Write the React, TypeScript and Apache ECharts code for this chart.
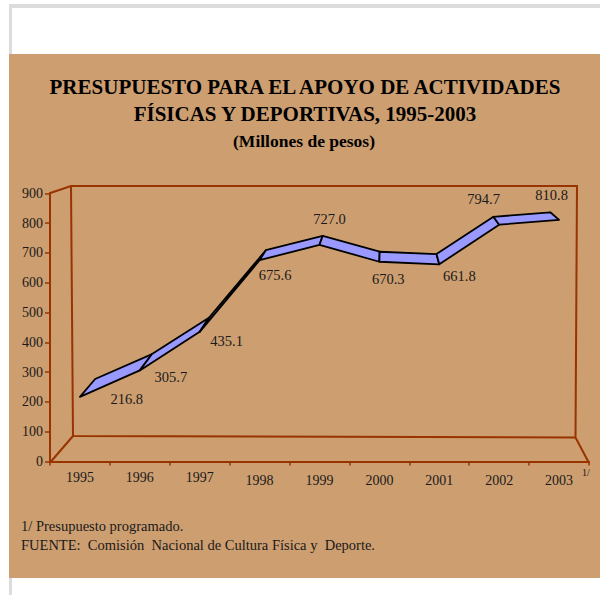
import React, { useEffect, useRef } from "react";
import * as echarts from "echarts";

const years = ["1995", "1996", "1997", "1998", "1999", "2000", "2001", "2002", "2003"];
const budget = [216.8, 305.7, 435.1, 675.6, 727.0, 670.3, 661.8, 794.7, 810.8];
const valueLabels = ["216.8", "305.7", "435.1", "675.6", "727.0", "670.3", "661.8", "794.7", "810.8"];

// Label offsets from each front point, in pixels
const labelDx = [46.8, 31, 26.9, 15.5, 10, 8.9, 20.1, -15.6, -7.4];
const labelDy = [2.4, 6.9, 9.5, 15.1, -25.6, 17.5, 11.4, -25.4, -24.6];

// One-point perspective used for the ribbon's back edge
const VP_X = 384;
const VP_Y = 89;
const DEPTH_X = 0.05;
const DEPTH_Y = 0.058;

const SERIF = "'Liberation Serif', 'Times New Roman', serif";
const TAN = "#CD9E70";
const AXIS = "#993300";
const INK = "#1a1a1a";

const back = (p: number[]) => [p[0] + (VP_X - p[0]) * DEPTH_X, p[1] + (VP_Y - p[1]) * DEPTH_Y];

export default function App() {
  const ref = useRef<HTMLDivElement>(null);
  useEffect(() => {
    const chart = echarts.init(ref.current!, null, { renderer: "svg" });
    const wall = { stroke: AXIS, lineWidth: 2, fill: "none" };
    chart.setOption({
      animation: false,
      backgroundColor: "#ffffff",
      title: [
        {
          text: "PRESUPUESTO PARA EL APOYO DE ACTIVIDADES\nFÍSICAS Y DEPORTIVAS, 1995-2003",
          left: 305,
          top: 73,
          textAlign: "center",
          padding: 0,
          textStyle: { fontFamily: SERIF, fontSize: 21, fontWeight: "bold", color: "#000", lineHeight: 27 },
        },
        {
          text: "(Millones de pesos)",
          left: 304,
          top: 132,
          textAlign: "center",
          padding: 0,
          textStyle: { fontFamily: SERIF, fontSize: 17.5, fontWeight: "bold", color: "#000", lineHeight: 18 },
        },
      ],
      grid: { left: 50, right: 11, top: 193.3, bottom: 133.5, containLabel: false },
      xAxis: {
        type: "category",
        data: years,
        boundaryGap: true,
        axisLine: { lineStyle: { color: AXIS, width: 2 } },
        axisTick: { show: true, length: 4, alignWithLabel: false, lineStyle: { color: AXIS, width: 1.5 } },
        axisLabel: {
          fontFamily: SERIF,
          fontSize: 14,
          color: INK,
          margin: 9,
          interval: 0,
          formatter: (value: string, index: number) => (index < 3 ? `{a|${value}}` : `{b|${value}}`),
          rich: {
            a: { fontFamily: SERIF, fontSize: 14, color: INK },
            b: { fontFamily: SERIF, fontSize: 14, color: INK, padding: [3, 0, 0, 0] },
          },
        },
        splitLine: { show: false },
      },
      yAxis: {
        type: "value",
        min: 0,
        max: 900,
        interval: 100,
        axisLine: { show: true, lineStyle: { color: AXIS, width: 2 } },
        axisTick: { show: true, length: 5, lineStyle: { color: AXIS, width: 1.5 } },
        axisLabel: { fontFamily: SERIF, fontSize: 14, color: INK, margin: 7 },
        splitLine: { show: false },
      },
      series: [
        {
          type: "custom",
          silent: true,
          clip: false,
          z: 5,
          data: budget.map((v, i) => [i, v]),
          encode: { x: 0, y: 1 },
          renderItem: (params: any, api: any) => {
            const i = api.value(0);
            const p0 = api.coord([i, budget[i]]);
            const children: any[] = [];
            if (i < budget.length - 1) {
              const p1 = api.coord([i + 1, budget[i + 1]]);
              children.push({
                type: "polygon",
                shape: { points: [p0, p1, back(p1), back(p0)] },
                style: { fill: "#9999FF", stroke: "#000", lineWidth: 1.8, lineJoin: "round" },
              });
            }
            children.push({
              type: "text",
              z2: 10,
              style: {
                x: p0[0] + labelDx[i],
                y: p0[1] + labelDy[i],
                text: valueLabels[i],
                fontFamily: SERIF,
                fontSize: 14.5,
                fill: INK,
                align: "center",
                verticalAlign: "middle",
              },
            });
            return { type: "group", children };
          },
        },
      ],
      graphic: [
        { type: "rect", z: -10, shape: { x: 9, y: 4, width: 591, height: 4 }, style: { fill: "#dcdcdc" } },
        { type: "rect", z: -10, shape: { x: 9, y: 4, width: 3, height: 591 }, style: { fill: "#dcdcdc" } },
        { type: "rect", z: -9, shape: { x: 9, y: 54, width: 591, height: 524 }, style: { fill: TAN } },
        { type: "polyline", z: -5, shape: { points: [[49.5, 193.3], [71, 186], [577, 186], [575.5, 437.5], [589, 463]] }, style: wall },
        { type: "polyline", z: -5, shape: { points: [[71, 186], [73, 436], [575.5, 437.5]] }, style: wall },
        { type: "line", z: -5, shape: { x1: 73, y1: 436, x2: 51, y2: 461.5 }, style: wall },
        {
          type: "text",
          z: 3,
          style: { x: 582, y: 472, text: "1/", fontFamily: SERIF, fontSize: 10, fill: INK, verticalAlign: "middle" },
        },
        {
          type: "text",
          z: 3,
          style: { x: 21, y: 526, text: "1/ Presupuesto programado.", fontFamily: SERIF, fontSize: 14.5, fill: INK, verticalAlign: "middle" },
        },
        {
          type: "text",
          z: 3,
          style: {
            x: 21,
            y: 545,
            text: "FUENTE:  Comisión  Nacional de Cultura Física y  Deporte.",
            fontFamily: SERIF,
            fontSize: 14.5,
            fill: INK,
            verticalAlign: "middle",
          },
        },
      ],
    });
    return () => chart.dispose();
  }, []);
  return <div ref={ref} style={{ position: "fixed", left: 0, top: 0, width: 600, height: 595 }} />;
}
